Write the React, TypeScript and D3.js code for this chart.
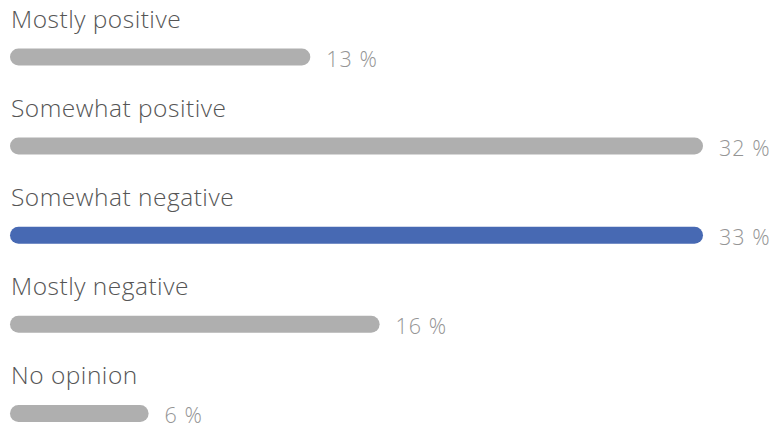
import React, { useEffect, useRef } from 'react';
import * as d3 from 'd3';

const categories: string[] = [
  'Mostly positive',
  'Somewhat positive',
  'Somewhat negative',
  'Mostly negative',
  'No opinion',
];
const values: number[] = [13, 32, 33, 16, 6];
const highlighted = 'Somewhat negative';

const App: React.FC = () => {
  const svgRef = useRef<SVGSVGElement>(null);

  useEffect(() => {
    if (!svgRef.current) return;

    const width = 772;
    const height = 428;
    const left = 10;
    const barH = 17;
    const font = '"Open Sans", "Noto Sans", sans-serif';

    const svg = d3.select(svgRef.current).attr('width', width).attr('height', height);
    svg.selectAll('*').remove();

    // the longest bars hit the track end, so the scale is clamped
    const xScale = d3.scaleLinear().domain([0, 30]).range([0, 693]).clamp(true);

    const yScale = d3
      .scaleBand<string>()
      .domain(categories)
      .range([13, 13 + 89.1 * categories.length]);

    const rows = svg
      .selectAll<SVGGElement, string>('g.row')
      .data(categories)
      .enter()
      .append('g')
      .attr('class', 'row')
      .attr('transform', (d) => `translate(${left}, ${yScale(d)!})`);

    rows
      .append('text')
      .attr('x', 1)
      .attr('y', 15)
      .attr('font-family', font)
      .attr('font-weight', 350)
      .attr('font-size', 24.5)
      .attr('letter-spacing', 0.5)
      .attr('fill', '#555555')
      .text((d) => d);

    rows
      .append('rect')
      .attr('x', 0)
      .attr('y', 35.5)
      .attr('height', barH)
      .attr('rx', barH / 2)
      .attr('width', (_d, i) => xScale(values[i]))
      .attr('fill', (d) => (d === highlighted ? '#4769b3' : '#afafaf'));

    rows
      .append('text')
      .attr('x', (_d, i) => xScale(values[i]) + 16)
      .attr('y', 54)
      .attr('font-family', font)
      .attr('font-weight', 350)
      .attr('font-size', 21.5)
      .attr('letter-spacing', 1)
      .attr('fill', '#959595')
      .text((_d, i) => `${values[i]} %`);
  }, []);

  return (
    <div style={{ position: 'absolute', left: 0, top: 0 }}>
      <svg ref={svgRef} style={{ display: 'block' }}></svg>
    </div>
  );
};

export default App;
